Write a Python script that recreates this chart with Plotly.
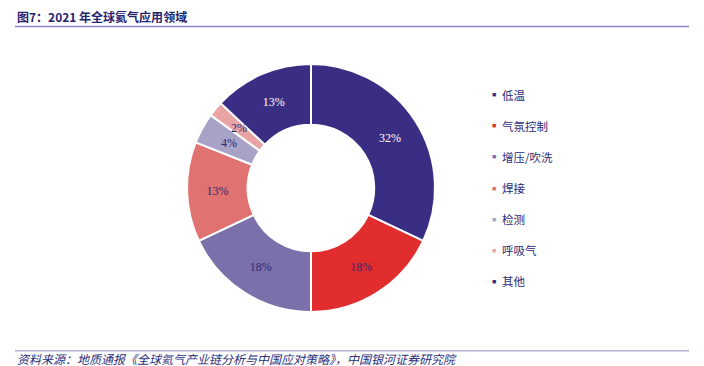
import math
import plotly.graph_objects as go

labels = ["低温", "气氛控制", "增压/吹洗", "焊接", "检测", "呼吸气", "其他"]
values = [32, 18, 18, 13, 4, 2, 13]
colors = ["#3a2e84", "#e12d2d", "#7a70aa", "#e07272", "#a8a2c6", "#e8a4a4", "#3a2e84"]
text_colors = ["#ffffff", "#2a2a78", "#2a2a78", "#2a2a78", "#2a2a78", "#2a2a78", "#ffffff"]

title_text = "图7：2021 年全球氦气应用领域"
source_text = "资料来源：地质通报《全球氦气产业链分析与中国应对策略》，中国银河证券研究院"

W, H = 704, 366
cx, cy, r = 311, 188, 124
hole = 0.51
small_share = 0.05  # slices too thin for plotly's inside text get a full-size label

total = sum(values)
texts = []
annotations = []
cum = 0.0
for v, tc in zip(values, text_colors):
    share = v / total
    if share < small_share:
        texts.append("")
        mid = (cum + share / 2) * 2 * math.pi
        rho = r * (1 + hole) / 2
        px = cx + rho * math.sin(mid)
        py = cy - rho * math.cos(mid)
        annotations.append(dict(text=f"{share:.0%}", x=px / W, y=1 - py / H, xref="paper", yref="paper",
                                xanchor="center", yanchor="middle", showarrow=False,
                                font=dict(family="Liberation Serif", size=12, color=tc)))
    else:
        texts.append(f"{share:.0%}")
    cum += share

fig = go.Figure()
fig.add_trace(go.Pie(
    labels=labels,
    values=values,
    text=texts,
    hole=hole,
    sort=False,
    direction="clockwise",
    rotation=0,
    marker=dict(colors=colors, line=dict(color="#ffffff", width=2)),
    textinfo="text",
    textposition="inside",
    insidetextorientation="horizontal",
    textfont=dict(family="Liberation Serif", size=12, color=text_colors),
    domain=dict(x=[(cx - r) / W, (cx + r) / W], y=[(H - cy - r) / H, (H - cy + r) / H]),
    showlegend=False,
    hoverinfo="label+percent",
))

annotations += [
    dict(text="<b>" + title_text + "</b>", x=15 / W, y=1 - 16 / H, xref="paper", yref="paper",
         xanchor="left", yanchor="middle", showarrow=False,
         font=dict(family="Noto Sans CJK SC", size=12, color="#24236e")),
    dict(text=source_text, x=15 / W, y=1 - 358 / H, xref="paper", yref="paper",
         xanchor="left", yanchor="middle", showarrow=False,
         font=dict(family="Noto Sans CJK SC", size=12, color="#2b2f7a", style="italic")),
]

# legend drawn as annotations
leg_y0, leg_dy = 95, 31
for i, (lab, col) in enumerate(zip(labels, colors)):
    yy = 1 - (leg_y0 + i * leg_dy) / H
    annotations.append(dict(text="■", x=494 / W, y=yy, xref="paper", yref="paper",
                             xanchor="center", yanchor="middle", showarrow=False,
                             font=dict(size=7, color=col)))
    annotations.append(dict(text=lab, x=500 / W, y=yy, xref="paper", yref="paper",
                            xanchor="left", yanchor="middle", showarrow=False,
                            font=dict(family="Noto Sans CJK SC", size=11.5, color="#2a2a78")))

shapes = [
    dict(type="line", xref="paper", yref="paper", x0=15 / W, x1=689 / W,
         y0=1 - 26.5 / H, y1=1 - 26.5 / H, line=dict(color="#8783c4", width=1.5)),
    dict(type="line", xref="paper", yref="paper", x0=15 / W, x1=689 / W,
         y0=1 - 350.7 / H, y1=1 - 350.7 / H, line=dict(color="#b3afd8", width=1.5)),
]

fig.update_layout(
    width=W, height=H,
    margin=dict(l=0, r=0, t=0, b=0),
    paper_bgcolor="#ffffff",
    plot_bgcolor="#ffffff",
    annotations=annotations,
    shapes=shapes,
)

fig.write_html("out.html", config={"displayModeBar": False},
               post_script="document.body.style.margin='0';document.body.style.padding='0';document.body.style.overflow='hidden';")
